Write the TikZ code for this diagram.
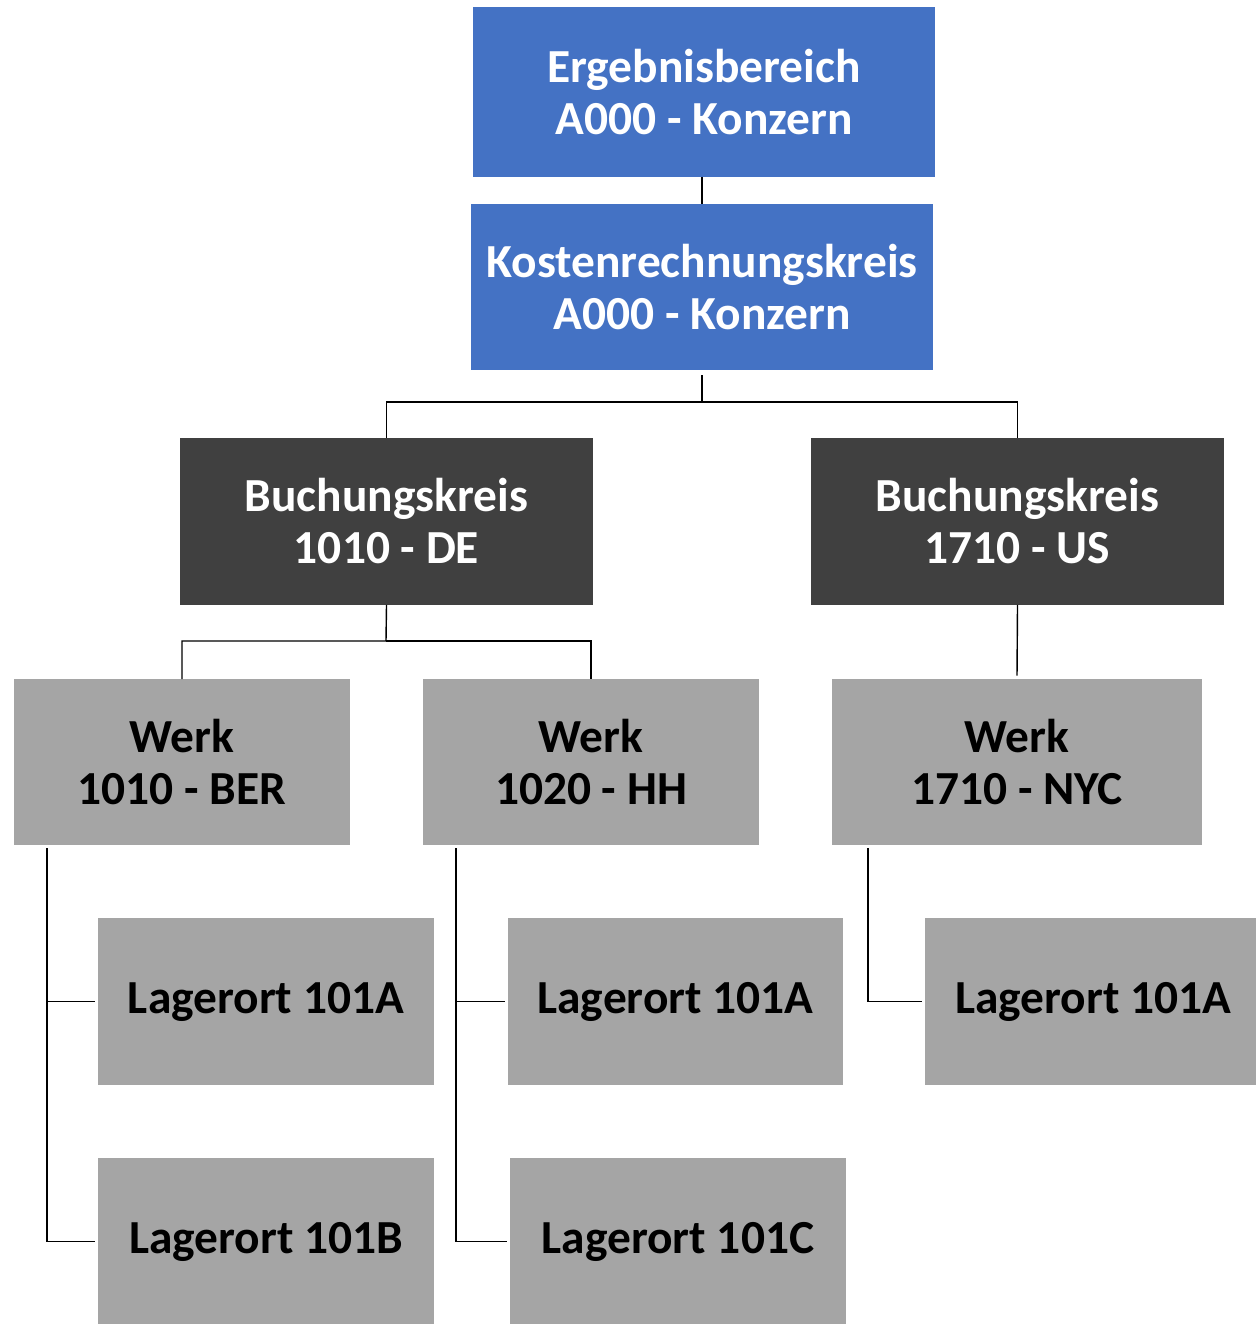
\documentclass[tikz,border=0pt]{standalone}
\usepackage{fontspec}
\setmainfont{Carlito}
\usetikzlibrary{positioning}

\definecolor{orgblue}{HTML}{4472C4}
\definecolor{orgdark}{HTML}{404040}
\definecolor{orggray}{HTML}{A5A5A5}

\begin{document}
\begin{tikzpicture}[%
        x = 0.02cm,
        y = -0.02cm,
        line width = 0.8pt,
        line cap = butt,
        orgbox/.style = {
            inner sep = 0pt, outer sep = 0pt,
            align = center,
            font = \fontsize{27}{29.6}\selectfont\bfseries
        },
        topbox/.style = {orgbox, fill = orgblue, text = white,
            minimum width = 9.24cm},
        ccbox/.style = {orgbox, fill = orgdark, text = white,
            minimum width = 8.26cm, minimum height = 3.34cm},
        plantbox/.style = {orgbox, fill = orggray, text = black,
            minimum width = 6.72cm, minimum height = 3.32cm},
        slocbox/.style = {orgbox, fill = orggray, text = black,
            minimum width = 6.72cm, minimum height = 3.34cm},
        link/.style = {draw = black}
    ]

        % Fix the page to the size of the picture.
        \useasboundingbox (0, 0) rectangle (1256, 1324);

        % Controlling area and operating concern.
        \node[topbox, minimum height = 3.40cm] (erg) at (704, 92)
            {Ergebnisbereich\\A000 - Konzern};
        \node[topbox, minimum height = 3.32cm] (kost) at (702, 287)
            {Kostenrechnungskreis\\A000 - Konzern};

        % Company codes.
        \node[ccbox] (bk1010) at (386.5, 521.5) {Buchungskreis\\1010 - DE};
        \node[ccbox] (bk1710) at (1017.5, 521.5) {Buchungskreis\\1710 - US};

        % Plants.
        \node[plantbox] (w1010) at (182, 762) {Werk\\1010 - BER};
        \node[plantbox] (w1020) at (591, 762) {Werk\\1020 - HH};
        \node[plantbox, minimum width = 7.40cm] (w1710) at (1017, 762)
            {Werk\\1710 - NYC};

        % Storage locations.
        \node[slocbox] (l1010a) at (266, 1001.5) {Lagerort 101A};
        \node[slocbox] (l1010b) at (266, 1241.5) {Lagerort 101B};
        \node[slocbox, minimum width = 6.70cm] (l1020a) at (675.5, 1001.5)
            {Lagerort 101A};
        \node[slocbox] (l1020c) at (678, 1241.5) {Lagerort 101C};
        \node[slocbox] (l1710a) at (1093, 1001.5) {Lagerort 101A};

        % Joints of the tree lines.
        \coordinate (kostjoin) at (702, 402);
        \coordinate (bkjoin) at (386, 641);
        \coordinate (w1010rail) at (47, 848);
        \coordinate (w1020rail) at (456, 848);
        \coordinate (w1710rail) at (868, 848);

        % Lines between the levels.
        \draw[link] (erg.south -| kost.north) -- (kost.north);
        \draw[link] ([yshift = -3pt] kost.south) -- (kostjoin)
            -| (bk1010.north);
        \draw[link] (kostjoin) -| (bk1710.north);
        \draw[link] (bk1010.south) -- (bkjoin) -| (w1010.north);
        \draw[link] (bkjoin) -| (w1020.north);
        \draw[link] (bk1710.south) -- ([yshift = 2pt] w1710.north);

        % Lines down to the storage locations.
        \draw[link] (w1010rail) |- ([xshift = -2pt] l1010a.west);
        \draw[link] (w1010rail) |- ([xshift = -2pt] l1010b.west);
        \draw[link] (w1020rail) |- ([xshift = -2pt] l1020a.west);
        \draw[link] (w1020rail) |- ([xshift = -2pt] l1020c.west);
        \draw[link] (w1710rail) |- ([xshift = -2pt] l1710a.west);
    \end{tikzpicture}
\end{document}
